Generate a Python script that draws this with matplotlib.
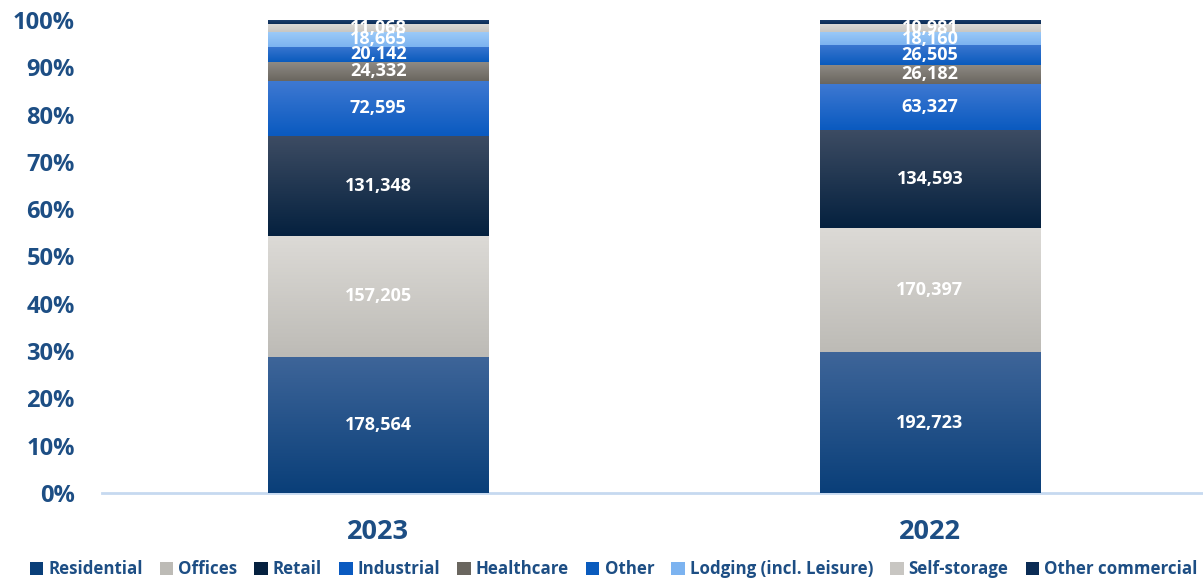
import numpy as np
import matplotlib.pyplot as plt
from matplotlib.colors import to_rgb

plt.rcParams['font.family'] = ['Open Sans', 'DejaVu Sans']
plt.rcParams['font.weight'] = 'bold'

years = ["2023", "2022"]
segments = ["Residential", "Offices", "Retail", "Industrial", "Healthcare",
            "Other", "Lodging (incl. Leisure)", "Self-storage", "Other commercial"]
residential = [178564, 192723]
offices = [157205, 170397]
retail = [131348, 134593]
industrial = [72595, 63327]
healthcare = [24332, 26182]
other = [20142, 26505]
lodging = [18665, 18160]
self_storage = [11068, 10981]
other_commercial = [5000, 5500]

values = [residential, offices, retail, industrial, healthcare,
          other, lodging, self_storage, other_commercial]
show_label = [True] * 8 + [False]

# (top, bottom) colours for the vertical gradient of each segment
grads = [("#3e6599", "#0a3f79"),
         ("#dcdad6", "#bdbbb6"),
         ("#3d4c63", "#05213f"),
         ("#3f79d2", "#0a5ac0"),
         ("#8e8a84", "#6a665f"),
         ("#3a76d0", "#0a5bbd"),
         ("#9ccaf8", "#7cb3f0"),
         ("#dddbd8", "#c8c6c2"),
         ("#1c3f6e", "#0b2c55")]

text_blue = "#1d4e84"

data = np.array(values, dtype=float)
pct = data / data.sum(axis=0) * 100

fig = plt.figure(figsize=(12.03, 5.79), dpi=100)
ax = fig.add_axes([0.0852, 0.1485, 0.9148, 0.817])

x = np.arange(len(years))
width = 0.40
bottom = np.zeros(len(years))
for i, name in enumerate(segments):
    bars = ax.bar(x, pct[i], width, bottom=bottom, color=grads[i][1],
                  edgecolor="none", label=name, zorder=2)
    top_c, bot_c = np.array(to_rgb(grads[i][0])), np.array(to_rgb(grads[i][1]))
    t = np.linspace(0, 1, 64)[:, None]
    img = (top_c * (1 - t) + bot_c * t)[:, None, :]
    for b in bars:
        x0, y0 = b.get_x(), b.get_y()
        im = ax.imshow(img, extent=[x0, x0 + b.get_width(), y0, y0 + b.get_height()],
                       aspect="auto", zorder=3, interpolation="bilinear")
        im.set_clip_path(b)
    if show_label[i]:
        for j in range(len(years)):
            ax.text(x[j], bottom[j] + pct[i][j] / 2, f"{int(data[i][j]):,}",
                    ha="center", va="center", color="white", fontsize=13,
                    fontweight="bold", zorder=5)
    bottom += pct[i]

ax.set_xlim(-0.5, 1.495)
ax.set_ylim(0, 100)
ax.set_yticks(np.arange(0, 101, 10))
ax.set_yticklabels([f"{v}%" for v in range(0, 101, 10)], fontsize=17,
                   color=text_blue, fontweight="bold")
ax.set_xticks(x)
ax.set_xticklabels(years, fontsize=19.5, color=text_blue, fontweight="bold")
ax.tick_params(axis="y", length=0, pad=20)
ax.tick_params(axis="x", length=0, pad=19)
for s in ["top", "right", "left"]:
    ax.spines[s].set_visible(False)
ax.spines["bottom"].set_color("#c6d9f0")
ax.spines["bottom"].set_linewidth(2)

handles, labels = ax.get_legend_handles_labels()
leg = fig.legend(handles, labels, loc="lower center", bbox_to_anchor=(0.51, -0.025),
                 ncol=9, frameon=False, fontsize=12.2, handlelength=0.8,
                 handleheight=0.8, handletextpad=0.3, columnspacing=1.0)
for t in leg.get_texts():
    t.set_color(text_blue)
    t.set_fontweight("bold")

fig.savefig("out.png", dpi=100)
